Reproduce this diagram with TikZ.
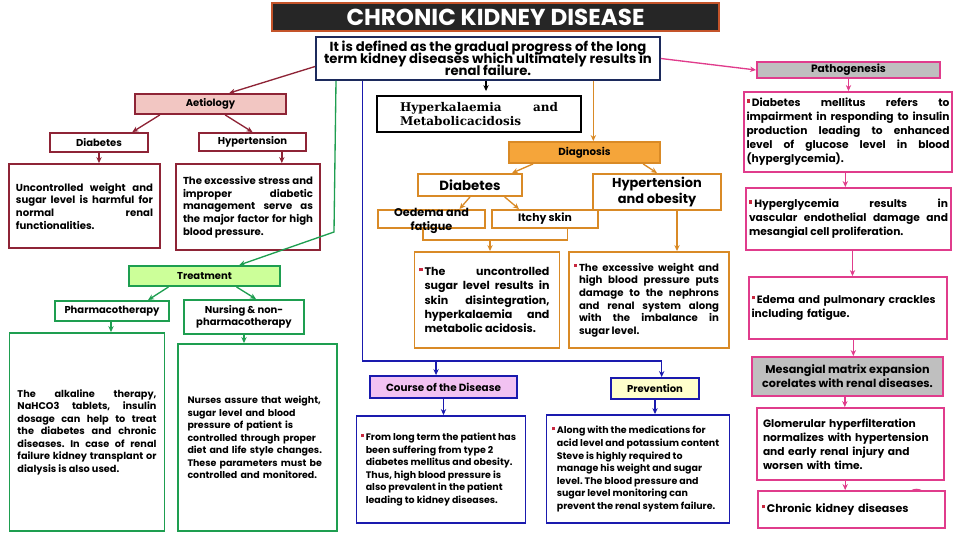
\documentclass[tikz,border=0pt]{standalone}
\usepackage{fontspec}
\setmainfont{Poppins}
\newfontfamily\hkfont{DejaVu Serif}
\usetikzlibrary{arrows.meta}
\hyphenpenalty=10000
\exhyphenpenalty=10000
\lineskiplimit=-6pt
\frenchspacing

\definecolor{ttlfill}{HTML}{262626}
\definecolor{ttlline}{HTML}{C4542A}
\definecolor{defline}{HTML}{1C2A5C}
\definecolor{dred}{HTML}{8E2436}
\definecolor{aetfill}{HTML}{F2C6C2}
\definecolor{grn}{HTML}{1E9E50}
\definecolor{trfill}{HTML}{CCFF99}
\definecolor{blu}{HTML}{1A1AAE}
\definecolor{crsfill}{HTML}{F2C2F2}
\definecolor{prvfill}{HTML}{FFFFCC}
\definecolor{orng}{HTML}{D98A26}
\definecolor{dgfill}{HTML}{F5A53A}
\definecolor{pnk}{HTML}{E03C8C}
\definecolor{gryfill}{HTML}{BFBFBF}
\definecolor{bulred}{HTML}{C8283F}

\newcommand\bul{{\color{bulred}\rule[0.38em]{2.6pt}{2.6pt}}\,}
\newcommand\hbul{\llap{\bul}}

\tikzset{
  box/.style={draw, line width=1.4pt, inner sep=2pt, font=\bfseries, text=black},
  sz/.style 2 args={minimum width=#1*0.75pt, minimum height=#2*0.75pt},
  tw/.style={text width=#1*0.75pt},
  arr/.style={line width=1pt, -{Stealth[length=4.5pt,width=4pt]}},
  small/.style={font=\bfseries\fontsize{7.5}{9}\selectfont},
  body/.style={font=\bfseries\fontsize{7.6}{9.5}\selectfont},
  note/.style={font=\bfseries\fontsize{7.1}{9.4}\selectfont},
  side/.style={font=\bfseries\fontsize{8}{10.5}\selectfont},
}

\begin{document}
\begin{tikzpicture}[x=0.75pt,y=-0.75pt]
  \useasboundingbox (0,0) rectangle (961,540);

  % title and definition
  \node[box, draw=ttlline, fill=ttlfill, text=white, sz={447}{28},
    font=\bfseries\fontsize{17.3}{18}\selectfont] (title) at (495.5,17) {CHRONIC KIDNEY DISEASE};
  \node[box, draw=defline, sz={344}{43}, align=center,
    font=\bfseries\fontsize{9.9}{8.9}\selectfont] (def) at (488,58.5)
    {It is defined as the gradual progress of the long\\term kidney diseases which ultimately results in\\renal failure.};
  \node[box, draw=black, sz={204}{36}, tw={158}, align=left,
    font=\hkfont\bfseries\fontsize{9}{10.5}\selectfont] (hk) at (479,114)
    {Hyperkalaemia\hfill and\\Metabolicacidosis};
  \draw[arr, black, shorten >=3pt] ([xshift=-1.5pt]def.south) -- ([xshift=-1.5pt]def.south |- hk.north);

  % aetiology
  \begin{scope}[every node/.append style={draw=dred}]
    \node[box, small, fill=aetfill, sz={151}{20}] (aet) at (210.5,104) {Aetiology};
    \node[box, small, sz={98}{19}] (diaA) at (99,142.5) {Diabetes};
    \node[box, small, sz={107}{18}] (hypA) at (252.5,142) {Hypertension};
    \node[box, body, sz={151}{84}, tw={137}, align=justify] (txtA) at (84.5,206)
      {Uncontrolled weight and\linebreak sugar level is harmful for\linebreak normal renal\linebreak functionalities.};
    \node[box, body, sz={144}{86}, tw={130}, align=justify] (txtB) at (248,207)
      {The excessive stress and\linebreak improper diabetic\linebreak management serve as\linebreak the major factor for high\linebreak blood pressure.};
  \end{scope}
  \draw[arr, dred] ([yshift=-6pt]def.west) -- ([xshift=14pt]aet.north);
  \draw[arr, dred] ([xshift=-38pt]aet.south) -- ([xshift=25pt]diaA.north);
  \draw[arr, dred] ([xshift=11pt]aet.south) -- (hypA.north);
  \draw[arr, dred] (diaA.south) -- (diaA.south |- txtA.north);
  \draw[arr, dred] ([xshift=22pt]hypA.south) -- ([xshift=22pt]hypA.south |- txtB.north);

  % treatment
  \begin{scope}[every node/.append style={draw=grn}]
    \node[box, small, fill=trfill, sz={151}{20}] (treat) at (204.5,276) {Treatment};
    \node[box, small, sz={114}{20}] (pharm) at (112,311) {Pharmacotherapy};
    \node[box, small, sz={120}{34}, align=center] (nurs) at (244,317) {Nursing \& non-\\pharmacotherapy};
    \node[box, font=\bfseries\fontsize{7.3}{9.4}\selectfont, sz={155}{198}, tw={139}, align=justify] (pharmT) at (87,432)
      {The alkaline therapy,\linebreak NaHCO3 tablets, insulin\linebreak dosage can help to treat\linebreak the diabetes and chronic\linebreak diseases. In case of renal\linebreak failure kidney transplant or\linebreak dialysis is also used.};
    \node[box, note, sz={159}{187}, tw={140}, align=left] (nursT) at (257.5,437.5)
      {Nurses assure that weight,\\sugar level and blood\\pressure of patient is\\controlled through proper\\diet and life style changes.\\These parameters must be\\controlled and monitored.};
  \end{scope}
  \coordinate (gbend) at (334,232);
  \draw[arr, grn] ([xshift=-114pt]def.south) -- (gbend) -- ([xshift=26pt]treat.north);
  \draw[arr, grn] ([xshift=-27pt]treat.south) -- ([xshift=27pt]pharm.north);
  \draw[arr, grn] ([xshift=24pt]treat.south) -- ([xshift=9pt]nurs.north);
  \draw[arr, grn] ([xshift=-0.75pt]pharm.south) -- ([xshift=-0.75pt]pharm.south |- pharmT.north);
  \draw[arr, grn] (nurs.south) -- (nurs.south |- nursT.north);

  % diagnosis
  \begin{scope}[every node/.append style={draw=orng}]
    \node[box, font=\bfseries\fontsize{7.7}{8}\selectfont, fill=dgfill, sz={151}{21}] (diag) at (584.5,152.5) {Diagnosis};
    \node[box, font=\bfseries\fontsize{10}{12}\selectfont, sz={104}{22}] (diabD) at (470,185) {Diabetes};
    \node[box, font=\bfseries\fontsize{9.7}{12.7}\selectfont, sz={128}{32}, align=center] (hypD) at (657,192) {Hypertension\\and obesity};
    \node[box, font=\bfseries\fontsize{8.4}{10.5}\selectfont, sz={107}{18}] (oed) at (431.5,219)
      {\smash{\raisebox{-3pt}{\begin{tabular}[c]{@{}c@{}}Oedema and\\fatigue\end{tabular}}}};
    \node[box, font=\bfseries\fontsize{8.1}{10}\selectfont, sz={106}{18}] (itch) at (545,219) {Itchy skin};
    \node[box, font=\bfseries\fontsize{8.3}{10.7}\selectfont, sz={145}{96}, tw={125}, align=justify] (uncT) at (487,300)
      {\hbul The uncontrolled\linebreak sugar level results in\linebreak skin disintegration,\linebreak hyperkalaemia and\linebreak metabolic acidosis.};
    \node[box, body, sz={160}{96}, tw={140}, align=justify] (excT) at (649,300)
      {\hbul The excessive weight and\linebreak high blood pressure puts\linebreak damage to the nephrons\linebreak and renal system along\linebreak with the imbalance in\linebreak sugar level.};
  \end{scope}
  \draw[arr, orng] ([xshift=79pt]def.south) -- ([xshift=79pt]def.south |- diag.north);
  \draw[arr, orng] ([xshift=-38.6pt]diag.south) -- ([xshift=31.5pt]diabD.north);
  \draw[arr, orng] ([xshift=44pt]diag.south) -- (hypD.north);
  \draw[arr, orng] (diabD.south) -- ([xshift=21pt]oed.north);
  \draw[arr, orng] ([xshift=26pt]diabD.south) -- ([xshift=-19.5pt]itch.north);
  \coordinate (ojoin) at (490,240);
  \draw[line width=1pt, orng] ([xshift=-6.4pt]oed.south) |- (ojoin) -| ([xshift=17pt]itch.south);
  \draw[arr, orng] (ojoin) -- (ojoin |- uncT.north);
  \draw[arr, orng] ([xshift=15pt]hypD.south) -- ([xshift=15pt]hypD.south |- excT.north);

  % course and prevention
  \begin{scope}[every node/.append style={draw=blu}]
    \node[box, font=\bfseries\fontsize{7.8}{9}\selectfont, fill=crsfill, sz={147}{22}] (course) at (443.5,387) {Course of the Disease};
    \node[box, font=\bfseries\fontsize{7.5}{9}\selectfont, fill=prvfill, sz={88}{21}] (prev) at (655,388.5) {Prevention};
    \node[box, note, sz={169}{107}, align=left] (courseT) at (441,469.5)
      {\hbul From long term the patient has\\been suffering from type 2\\diabetes mellitus and obesity.\\Thus, high blood pressure is\\also prevalent in the patient\\leading to kidney diseases.};
    \node[box, note, sz={183}{108}, align=left] (prevT) at (638,469)
      {\hbul Along with the medications for\\acid level and potassium content\\Steve is highly required to\\manage his weight and sugar\\level. The blood pressure and\\sugar level monitoring can\\prevent the renal system failure.};
  \end{scope}
  \coordinate (bbus) at (0,361);
  \draw[line width=1pt, blu] ([xshift=-94pt]def.south) |- ([xshift=5pt]prev.north |- bbus);
  \draw[arr, blu] ([xshift=-5.6pt]course.north |- bbus) -- ([xshift=-5.6pt]course.north);
  \draw[arr, blu] ([xshift=5pt]prev.north |- bbus) -- ([xshift=5pt]prev.north);
  \draw[arr, blu] (course.south) -- (course.south |- courseT.north);
  \draw[arr, blu] (prev.south) -- (prev.south |- prevT.north);

  % pathogenesis
  \begin{scope}[every node/.append style={draw=pnk}]
    \node[box, font=\bfseries\fontsize{8}{9}\selectfont, fill=gryfill, sz={183}{16}, inner sep=0pt] (path) at (848.5,70) {Pathogenesis};
    \node[box, side, sz={206}{80}, tw={203}, align=justify] (pA) at (848,132)
      {\bul Diabetes mellitus refers to\linebreak impairment in responding to insulin\linebreak production leading to enhanced\linebreak level of glucose level in blood\linebreak (hyperglycemia).};
    \node[box, side, sz={203}{62}, tw={199}, align=justify] (pB) at (848.5,219)
      {\bul Hyperglycemia results in\linebreak vascular endothelial damage and\linebreak mesangial cell proliferation.};
    \node[box, side, sz={196}{62}, tw={193}, align=left] (pC) at (848,308)
      {\bul Edema and pulmonary crackles\\including fatigue.};
    \node[box, font=\bfseries\fontsize{8.4}{10.5}\selectfont, fill=gryfill, sz={191}{39}, align=center] (mes) at (847.5,376.5)
      {Mesangial matrix expansion\\corelates with renal diseases.};
    \node[box, side, sz={187}{72}, tw={175}, align=left] (glo) at (850.5,444)
      {Glomerular hyperfilteration\\normalizes with hypertension\\and early renal injury and\\worsen with time.};
    \node[box, font=\bfseries\fontsize{8.3}{10.5}\selectfont, sz={187}{37}, tw={180}, align=left] (chr) at (851.5,509.5)
      {\bul Chronic kidney diseases};
  \end{scope}
  \draw[arr, pnk] (def.east) -- (path.west);
  \draw[arr, pnk] (path.south) -- (path.south |- pA.north);
  \draw[arr, pnk] ([xshift=-2pt]pA.south) -- ([xshift=-2pt]pA.south |- pB.north);
  \draw[arr, pnk] ([xshift=3pt]pB.south) -- ([xshift=3pt]pB.south |- pC.north);
  \draw[arr, pnk] ([xshift=4pt]pC.south) -- ([xshift=4pt]pC.south |- mes.north);
  \draw[arr, pnk] ([xshift=-2pt]mes.south) -- ([xshift=-2pt]mes.south |- glo.north);
  \draw[arr, pnk] ([xshift=-4pt]glo.south) -- ([xshift=-4pt]glo.south |- chr.north);
  \draw[pnk, line width=1pt] (911,491) to[bend left=30] (922,491);
\end{tikzpicture}
\end{document}
